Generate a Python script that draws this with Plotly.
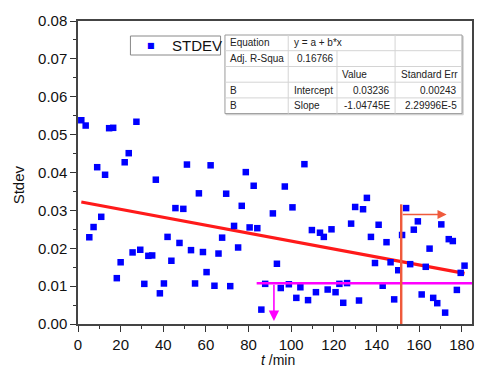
import plotly.graph_objects as go

# ---------------- data ----------------
t_min = [1.55, 3.6, 5.3, 7.3, 9.0, 10.9, 12.7, 14.6, 16.5, 18.2, 20.0, 21.9, 23.8, 25.6, 27.4,
         29.2, 31.1, 33.0, 34.8, 36.5, 38.4, 40.3, 42.0, 43.8, 45.7, 47.6, 49.4, 51.1, 53.0,
         54.9, 56.7, 58.6, 60.3, 62.2, 64.0, 65.9, 67.6, 69.5, 71.4, 73.2, 75.1, 76.8, 78.7,
         80.5, 82.4, 84.1, 86.0, 87.8, 91.4, 93.3, 95.1, 97.0, 98.9, 100.6, 102.4, 104.3,
         106.2, 107.9, 109.7, 111.6, 113.5, 115.3, 117.1, 118.9, 120.8, 122.6, 124.4, 126.2,
         128.1, 130.0, 131.8, 133.7, 135.5, 137.4, 139.3, 141.0, 142.9, 144.7, 146.6, 148.3,
         150.2, 152.0, 153.9, 155.8, 157.5, 159.4, 161.2, 163.1, 164.9, 166.6, 168.5, 170.4,
         172.2, 173.9, 175.8, 177.7, 179.5, 181.3]
stdev = [0.0538, 0.0524, 0.0229, 0.0256, 0.0414, 0.0283, 0.0394, 0.0517, 0.0518, 0.0121,
         0.0163, 0.0427, 0.0451, 0.0189, 0.0534, 0.0196, 0.0106, 0.0180, 0.0181, 0.0381,
         0.0081, 0.0107, 0.0230, 0.0167, 0.0306, 0.0214, 0.0304, 0.0421, 0.0195, 0.0107,
         0.0345, 0.0190, 0.0137, 0.0419, 0.0101, 0.0186, 0.0228, 0.0344, 0.0100, 0.0259,
         0.0202, 0.0312, 0.0401, 0.0255, 0.0365, 0.0253, 0.0038, 0.0106, 0.0292, 0.0159,
         0.0095, 0.0363, 0.0105, 0.0308, 0.0069, 0.0097, 0.0422, 0.0063, 0.0248, 0.0084,
         0.0241, 0.0230, 0.0091, 0.0250, 0.0084, 0.0106, 0.0056, 0.0108, 0.0265, 0.0309,
         0.0062, 0.0303, 0.0333, 0.0230, 0.0161, 0.0262, 0.0101, 0.0216, 0.0163, 0.0065,
         0.0142, 0.0235, 0.0306, 0.0158, 0.0249, 0.0271, 0.0078, 0.0151, 0.0199, 0.0069,
         0.0055, 0.0263, 0.0030, 0.0224, 0.0219, 0.0090, 0.0135, 0.0154]

intercept = 0.03236
slope = -1.04745e-4

x_ticks = [0, 20, 40, 60, 80, 100, 120, 140, 160, 180]
y_ticks = [0.00, 0.01, 0.02, 0.03, 0.04, 0.05, 0.06, 0.07, 0.08]
y_tick_labels = ["0.00", "0.01", "0.02", "0.03", "0.04", "0.05", "0.06", "0.07", "0.08"]

# guide lines (magenta threshold, orange marker line)
magenta_level = 0.01075
magenta_x = [83.8, 184.8]
magenta_arrow_x = 91.9
magenta_arrow_end = 0.0008
orange_x = 151.6
orange_top = 0.0316
orange_arrow_y = 0.0289
orange_arrow_end = 172.9

table_rows = [
    ["Equation", "y = a + b*x", "", ""],
    ["Adj. R-Squa", "0.16766", "", ""],
    ["", "", "Value", "Standard Err"],
    ["B", "Intercept", "0.03236", "0.00243"],
    ["B", "Slope", "-1.04745E", "2.29996E-5"],
]

# ---------------- figure ----------------
W, H = 479, 368
ML, MR, MT, MB = 78, 5, 21, 44
PW, PH = W - ML - MR, H - MT - MB
FONT = "Arial, Liberation Sans, sans-serif"


def px(xp):
    return (xp - ML) / PW


def py(yp):
    return 1 - (yp - MT) / PH


fig = go.Figure()

x_fit = [min(t_min), max(t_min)]
y_fit = [intercept + slope * v for v in x_fit]

fig.add_trace(go.Scatter(x=x_fit, y=y_fit, mode="lines",
                         line=dict(color="#ff1a1a", width=3.2),
                         showlegend=False, hoverinfo="skip"))

fig.add_trace(go.Scatter(x=t_min, y=stdev, mode="markers", name="STDEV",
                         marker=dict(symbol="square", size=6.5, color="#0000ff",
                                     line=dict(width=0)),
                         showlegend=False))

# magenta horizontal line
fig.add_trace(go.Scatter(x=magenta_x, y=[magenta_level, magenta_level], mode="lines",
                         line=dict(color="#ff00ff", width=2.6), showlegend=False,
                         hoverinfo="skip"))
# orange vertical line
fig.add_trace(go.Scatter(x=[orange_x, orange_x], y=[0, orange_top], mode="lines",
                         line=dict(color="#ef5a3c", width=2.4), showlegend=False,
                         hoverinfo="skip"))

shapes = []
annotations = []

# arrows
annotations.append(dict(x=magenta_arrow_x, y=magenta_arrow_end, ax=magenta_arrow_x,
                        ay=magenta_level, xref="x", yref="y", axref="x", ayref="y",
                        showarrow=True, arrowhead=2, arrowsize=1.3, arrowwidth=1.6,
                        arrowcolor="#ff00ff", text=""))
annotations.append(dict(x=orange_arrow_end, y=orange_arrow_y, ax=orange_x,
                        ay=orange_arrow_y, xref="x", yref="y", axref="x", ayref="y",
                        showarrow=True, arrowhead=2, arrowsize=1.3, arrowwidth=1.4,
                        arrowcolor="#ef5a3c", text=""))

# legend box (manual)
lx0, ly0, lx1, ly1 = 130.7, 36, 221.3, 55
shapes.append(dict(type="rect", xref="paper", yref="paper", x0=px(lx0), x1=px(lx1),
                   y0=py(ly1), y1=py(ly0), line=dict(color="#888888", width=1),
                   fillcolor="white", layer="above"))
annotations.append(dict(x=px(151.3), y=py(45.5), xref="paper", yref="paper",
                        text="■", showarrow=False, font=dict(family="DejaVu Sans", size=8, color="#0000ff"),
                        xanchor="center", yanchor="middle"))
annotations.append(dict(x=px(170.5), y=py(45.8), xref="paper", yref="paper",
                        text="STDEV", showarrow=False, font=dict(family=FONT, size=15, color="#111"),
                        xanchor="left", yanchor="middle"))

# table
col_x = [225.7, 289.3, 338.3, 396.7, 464.0]
row_y = [35, 50.7, 66.5, 82.2, 97.9, 113.6]
shapes.append(dict(type="rect", xref="paper", yref="paper", x0=px(col_x[0] + 1.2),
                   x1=px(col_x[-1] + 1.2), y0=py(row_y[-1] + 1.2), y1=py(row_y[0] + 1.2),
                   line=dict(color="#d0d0d0", width=1), fillcolor="#d8d8d8", layer="above"))
shapes.append(dict(type="rect", xref="paper", yref="paper", x0=px(col_x[0]), x1=px(col_x[-1]),
                   y0=py(row_y[-1]), y1=py(row_y[0]), line=dict(color="#9a9a9a", width=1),
                   fillcolor="white", layer="above"))
for yy in row_y[1:-1]:
    shapes.append(dict(type="line", xref="paper", yref="paper", x0=px(col_x[0]), x1=px(col_x[-1]),
                       y0=py(yy), y1=py(yy), line=dict(color="#d4d4d4", width=1), layer="above"))
for ci, xx in enumerate(col_x[1:-1], start=1):
    start_row = 1 if ci == 2 else 0
    shapes.append(dict(type="line", xref="paper", yref="paper", x0=px(xx), x1=px(xx),
                       y0=py(row_y[-1]), y1=py(row_y[start_row]),
                       line=dict(color="#d4d4d4", width=1), layer="above"))

for ri, row in enumerate(table_rows):
    yc = (row_y[ri] + row_y[ri + 1]) / 2
    for ci, txt in enumerate(row):
        if not txt:
            continue
        right_align = ri >= 3 and ci >= 2
        if right_align:
            xa, anchor = col_x[ci + 1] - 3.5, "right"
        else:
            xa, anchor = col_x[ci] + 3.5, "left"
            if ri == 1 and ci == 1:
                xa = col_x[ci] + 7
        annotations.append(dict(x=px(xa), y=py(yc), xref="paper", yref="paper", text=txt,
                                showarrow=False, xanchor=anchor, yanchor="middle",
                                font=dict(family=FONT, size=10, color="#222")))

# axis titles
annotations.append(dict(x=px(18), y=py(185), xref="paper", yref="paper", text="Stdev",
                        textangle=-90, showarrow=False, xanchor="center", yanchor="middle",
                        font=dict(family=FONT, size=15, color="#111")))
annotations.append(dict(x=px(279), y=py(360), xref="paper", yref="paper",
                        text="<i>t</i> /min", showarrow=False, xanchor="center", yanchor="middle",
                        font=dict(family=FONT, size=14, color="#111")))

fig.update_layout(
    width=W, height=H,
    margin=dict(l=ML, r=MR, t=MT, b=MB, pad=0),
    paper_bgcolor="white", plot_bgcolor="white",
    showlegend=False,
    shapes=shapes, annotations=annotations,
    font=dict(family=FONT, size=15, color="#111"),
)
fig.update_xaxes(range=[0, 184.8], tickvals=x_ticks, ticks="outside", ticklen=6, tickwidth=1,
                 tickcolor="#333", showline=True, linecolor="#444", linewidth=1.5, mirror=True,
                 showgrid=False, zeroline=False,
                 minor=dict(dtick=10, tick0=0, ticks="outside", ticklen=3, tickcolor="#333"),
                 tickfont=dict(size=15, family=FONT, color="#111"))
fig.update_yaxes(range=[0, 0.08], tickvals=y_ticks, ticktext=y_tick_labels, ticks="outside",
                 ticklen=6, tickwidth=1, tickcolor="#333", showline=True, linecolor="#444",
                 linewidth=1.5, mirror=True, showgrid=False, zeroline=False,
                 minor=dict(dtick=0.005, tick0=0, ticks="outside", ticklen=3, tickcolor="#333"),
                 tickfont=dict(size=15, family=FONT, color="#111"))

fig.write_html("out.html", config={"displayModeBar": False},
               post_script="document.body.style.margin='0px';document.body.style.overflow='hidden';")
